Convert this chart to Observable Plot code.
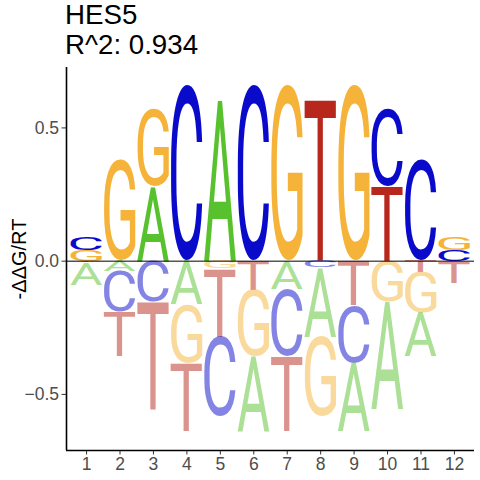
<!DOCTYPE html>
<html><head><meta charset="utf-8">
<script src="https://cdn.jsdelivr.net/npm/d3@7"></script>
<script src="https://cdn.jsdelivr.net/npm/@observablehq/plot@0.6"></script>
<style>
body{margin:0;background:#fff;font-family:"Liberation Sans",Arial,sans-serif;}
#wrap{width:480px;height:480px;overflow:hidden}
#title{height:60px;padding-left:65px;font-size:27.7px;line-height:30px;color:#000}
#chart svg g[aria-label^="x-axis"] text, #chart svg g[aria-label^="y-axis"] text{fill:#4d4d4d}
#chart svg g[aria-label^="x-axis"] path, #chart svg g[aria-label^="y-axis"] path,
#chart svg g[aria-label^="x-axis"] line, #chart svg g[aria-label^="y-axis"] line{stroke:#333}
</style></head><body>
<div id="wrap"><div id="title"><div>HES5</div><div>R^2: 0.934</div></div><div id="chart"></div></div>
<script>
// ---- data ----
const positions = [1,2,3,4,5,6,7,8,9,10,11,12];
const letters = ["A","C","G","T"];
const valA = [-0.085,-0.040, 0.280,-0.164, 0.608,-0.284,-0.106,-0.260,-0.258,-0.405,-0.163,-0.005];
const valC = [ 0.048,-0.151,-0.153, 0.658,-0.300, 0.658,-0.250,-0.025,-0.215, 0.290, 0.377, 0.040];
const valG = [ 0.040, 0.375, 0.290,-0.220,-0.028,-0.250, 0.658,-0.300, 0.655,-0.153,-0.151, 0.048];
const valT = [-0.005,-0.165,-0.405,-0.257,-0.257,-0.109,-0.283, 0.605,-0.167, 0.280,-0.043,-0.080];
const letterColors = ["#58C22E","#0A0ACB","#F5B33A","#B8271C"];
const yTicks = [-0.5, 0, 0.5];
const yLabel = "-ΔΔG/RT";

// ---- stacking ----
const values = [valA, valC, valG, valT];
const posRows = [], negRows = [];
positions.forEach((p, i) => {
  const entries = letters.map((l, k) => ({letter: l, k, v: values[k][i]}));
  let top = 0;
  entries.filter(e => e.v > 0).sort((a, b) => a.v - b.v).forEach(e => {
    posRows.push({pos: p, letter: e.letter, k: e.k, y1: top, y2: top + e.v}); top += e.v;
  });
  let bot = 0;
  entries.filter(e => e.v < 0).sort((a, b) => b.v - a.v).forEach(e => {
    negRows.push({pos: p, letter: e.letter, k: e.k, y1: bot, y2: bot + e.v}); bot += e.v;
  });
});

const colW = 0.95;
const xDomain = [0.4, 12.6];
const yDomain = [-0.7105, 0.7267];
const boxOpts = label => ({x1: d => d.pos - colW / 2, x2: d => d.pos + colW / 2, y1: "y1", y2: "y2", fill: "none", ariaLabel: () => label});
const letterOpts = (label, op) => ({x: "pos", y: d => (d.y1 + d.y2) / 2, text: "letter", fill: d => letterColors[d.k], fillOpacity: op, ariaLabel: () => label});

const plot = Plot.plot({
  width: 480, height: 420, marginTop: 7, marginRight: 6, marginBottom: 30, marginLeft: 66,
  style: {fontFamily: '"Liberation Sans", Arial, sans-serif', fontSize: "17.5px", color: "#000", background: "#fff", overflow: "visible"},
  color: {type: "identity"},
  x: {domain: xDomain, ticks: positions, tickFormat: d => String(d), label: null, tickSize: 4.5, tickPadding: 3},
  y: {domain: yDomain, ticks: yTicks, tickFormat: d3.format(".1f"), label: null, tickSize: 4.5, tickPadding: 3},
  marks: [
    Plot.rect(posRows, boxOpts("pos-box")),
    Plot.rect(negRows, boxOpts("neg-box")),
    Plot.text(posRows, letterOpts("pos-letter", 1)),
    Plot.text(negRows, letterOpts("neg-letter", 0.5)),
    Plot.ruleY([0], {stroke: "#000", strokeWidth: 1}),
    Plot.ruleX([xDomain[0]], {stroke: "#000", strokeWidth: 1.6}),
    Plot.ruleY([yDomain[0]], {stroke: "#000", strokeWidth: 1.6}),
    Plot.text([yLabel], {text: d => d, frameAnchor: "left", textAnchor: "middle", rotate: -90, dx: -47, fontSize: 20, fill: "#000", lineAnchor: "middle"})
  ]
});
document.getElementById("chart").append(plot);

// ---- fit each letter glyph to its library-drawn box ----
const LFONT = "Roboto", LWEIGHT = "400";
const ctx = document.createElement("canvas").getContext("2d");
ctx.font = `${LWEIGHT} 100px ${LFONT}`;
function fit(boxLabel, letterLabel) {
  const rects = plot.querySelectorAll(`rect[aria-label="${boxLabel}"]`);
  const texts = plot.querySelectorAll(`text[aria-label="${letterLabel}"]`);
  if (!rects.length || !texts.length) return;
  const rg = rects[0].parentNode, tg = texts[0].parentNode;
  tg.setAttribute("transform", rg.getAttribute("transform") || "");
  texts.forEach((t, i) => {
    const r = rects[i]; if (!r) return;
    const rx = +r.getAttribute("x"), ry = +r.getAttribute("y");
    const rw = +r.getAttribute("width"), rh = +r.getAttribute("height");
    const m = ctx.measureText(t.textContent);
    const L = m.actualBoundingBoxLeft, R = m.actualBoundingBoxRight;
    const A = m.actualBoundingBoxAscent, D = m.actualBoundingBoxDescent;
    const sx = rw / (L + R), sy = rh / (A + D);
    t.removeAttribute("x"); t.removeAttribute("y"); t.setAttribute("dy", "0");
    t.setAttribute("text-anchor", "start");
    t.style.fontFamily = LFONT; t.style.fontWeight = LWEIGHT; t.style.fontSize = "100px";
    t.setAttribute("transform", `translate(${rx + L * sx},${ry + A * sy}) scale(${sx},${sy})`);
  });
}
fit("pos-box", "pos-letter");
fit("neg-box", "neg-letter");
</script>
</body></html>
